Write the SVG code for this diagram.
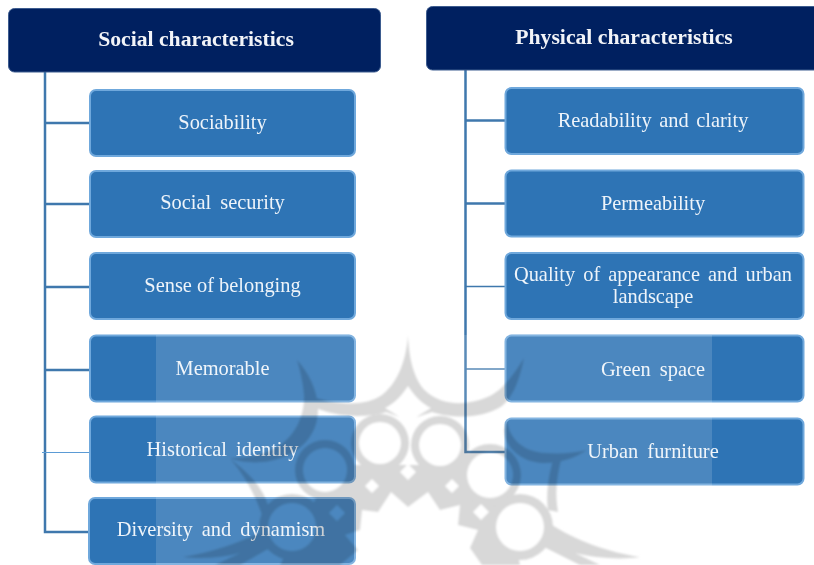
<svg xmlns="http://www.w3.org/2000/svg" width="814" height="565" viewBox="0 0 814 565">
<style>
text{font-family:"Liberation Serif","Times New Roman",serif;text-anchor:middle;fill:#eef4fa;font-size:20.4px}
.h rect{fill:#002060;stroke:#3d5c8f;stroke-width:1}
.h text{font-weight:bold;fill:#f2f4f8;font-size:21.7px}
.b rect{fill:#2e74b5;stroke:#6fa8dc;stroke-width:2}
.w{word-spacing:4px}
#connectors path{fill:none;stroke:#3f78ad}
#watermark{mix-blend-mode:multiply}
#watermark .g{fill:#d8d8d8}
#watermark .o{fill:#fff}
</style>
<defs><filter id="soft" x="-5%" y="-5%" width="110%" height="110%"><feGaussianBlur stdDeviation="0.8"/></filter></defs>
<rect width="814" height="565" fill="#fff"/>
<g id="connectors">
<path d="M45 72V532H89M45 123H89M45 204H89M45 287H89M45 370H89" stroke-width="2.5"/>
<path d="M42 452.500H89" style="stroke:#5b9bd5" stroke-width="1"/>
<path d="M465.500 70V452H505M465 120.500H505M465 203.500H505" stroke-width="2.500"/>
<path d="M465 286.500H505M465 369H505" stroke-width="1.500"/>
</g>
<g id="social-header" class="h"><rect x="8.500" y="8.500" width="372" height="63.500" rx="6"/><text x="196" y="46">Social characteristics</text></g>
<g id="physical-header" class="h"><rect x="426.500" y="6.500" width="395" height="63.500" rx="6"/><text x="624" y="44">Physical characteristics</text></g>
<g id="sociability" class="b"><rect x="90" y="90" width="265" height="66" rx="6"/><text x="222.500" y="129">Sociability</text></g>
<g id="social-security" class="b"><rect x="90" y="171" width="265" height="66" rx="6"/><text class="w" x="222.500" y="209">Social security</text></g>
<g id="sense-of-belonging" class="b"><rect x="90" y="253" width="265" height="66" rx="6"/><text x="222.500" y="292">Sense of belonging</text></g>
<g id="memorable" class="b"><rect x="90" y="335.500" width="265" height="66" rx="6"/><text x="222.500" y="375">Memorable</text></g>
<g id="historical-identity" class="b"><rect x="90" y="416.500" width="265" height="66" rx="6"/><text class="w" x="222.500" y="456">Historical identity</text></g>
<g id="diversity" class="b"><rect x="89" y="498" width="266" height="66" rx="6"/><text class="w" x="221" y="536">Diversity and dynamism</text></g>
<g id="readability" class="b"><rect x="505.500" y="88" width="298" height="66" rx="6"/><text x="653" y="127" style="word-spacing:2.500px">Readability and clarity</text></g>
<g id="permeability" class="b"><rect x="505.500" y="170.500" width="298" height="66" rx="6"/><text x="653" y="210">Permeability</text></g>
<g id="quality" class="b"><rect x="505.500" y="253" width="298" height="66" rx="6"/><text x="653" y="281" style="word-spacing:3px">Quality of appearance and urban</text><text x="653" y="303">landscape</text></g>
<g id="green-space" class="b"><rect x="505.500" y="335.500" width="298" height="66" rx="6"/><text class="w" x="653" y="376">Green space</text></g>
<g id="urban-furniture" class="b"><rect x="505.500" y="418.500" width="298" height="66" rx="6"/><text class="w" x="653" y="458">Urban furniture</text></g>
<rect id="veil" x="156" y="335" width="556" height="230" fill="#fff" opacity=".14"/>
<g id="watermark" filter="url(#soft)">
<path class="g" d="M408 335C409 365 417 385 428 393C445 407 470 405 490 396C505 388 515 372 524 358C520 378 514 396 502 406C480 420 450 418 432 412L408 420L386 412C368 418 335 418 312 406C305 402 300 398 310 396C335 405 365 407 382 395C395 385 406 365 408 335Z"/>
<path class="g" d="M297 360C308 372 318 390 318 410C318 435 300 455 270 461C255 464 240 462 230 458C245 458 260 456 275 448C295 438 305 415 304 395C303 382 300 370 297 360Z"/>
<path class="g" d="M507 420C509 440 525 452 545 453C560 454 575 453 587 450C575 458 560 463 545 463C522 463 505 448 504 430Z"/>
<path class="g" d="M230 459C245 470 262 485 268 505L275 522L265 524C258 500 245 475 230 459Z"/>
<path class="g" d="M183 557C215 552 245 540 266 530L275 545L240 565H215L240 553C222 558 200 559 183 557Z"/>
<path class="g" d="M640 557C610 553 575 540 552 525L540 545L580 565H600L575 553C595 558 620 560 640 557Z"/>
<path class="g" d="M553 460H561C556 480 555 495 558 512L548 510C546 495 548 478 553 460Z"/>
<path class="g" d="M350 465H470L505 500L520 565H280L315 500Z"/>
<circle class="g" cx="380" cy="443" r="29"/><circle class="g" cx="440" cy="445" r="29"/>
<circle class="g" cx="325" cy="470" r="30"/><circle class="g" cx="490" cy="475" r="31"/>
<circle class="g" cx="292" cy="527" r="33"/><circle class="g" cx="520" cy="527" r="33"/>
<circle class="o" cx="380" cy="443" r="21"/><circle class="o" cx="440" cy="445" r="21"/>
<circle class="o" cx="325" cy="470" r="22"/><circle class="o" cx="490" cy="475" r="23"/>
<circle class="o" cx="292" cy="527" r="24"/><circle class="o" cx="520" cy="527" r="24"/>
<path class="o" d="M408 386C400 398 393 404 385 408L398 416L408 426L418 416L431 408C423 404 416 398 408 386Z"/>
<path class="o" d="M408 464l8 8-8 8-8-8zM372 479l7 7-7 7-7-7zM452 479l7 7-7 7-7-7zM337 505l8 8-8 8-8-8zM481 504l8 8-8 8-8-8z"/>
<path class="o" d="M408 507L391 492L378 512L362 510L360 530L345 535L358 550L340 565H482L470 548L478 530L458 525L460 505L440 510L428 492Z"/>
</g>
</svg>
